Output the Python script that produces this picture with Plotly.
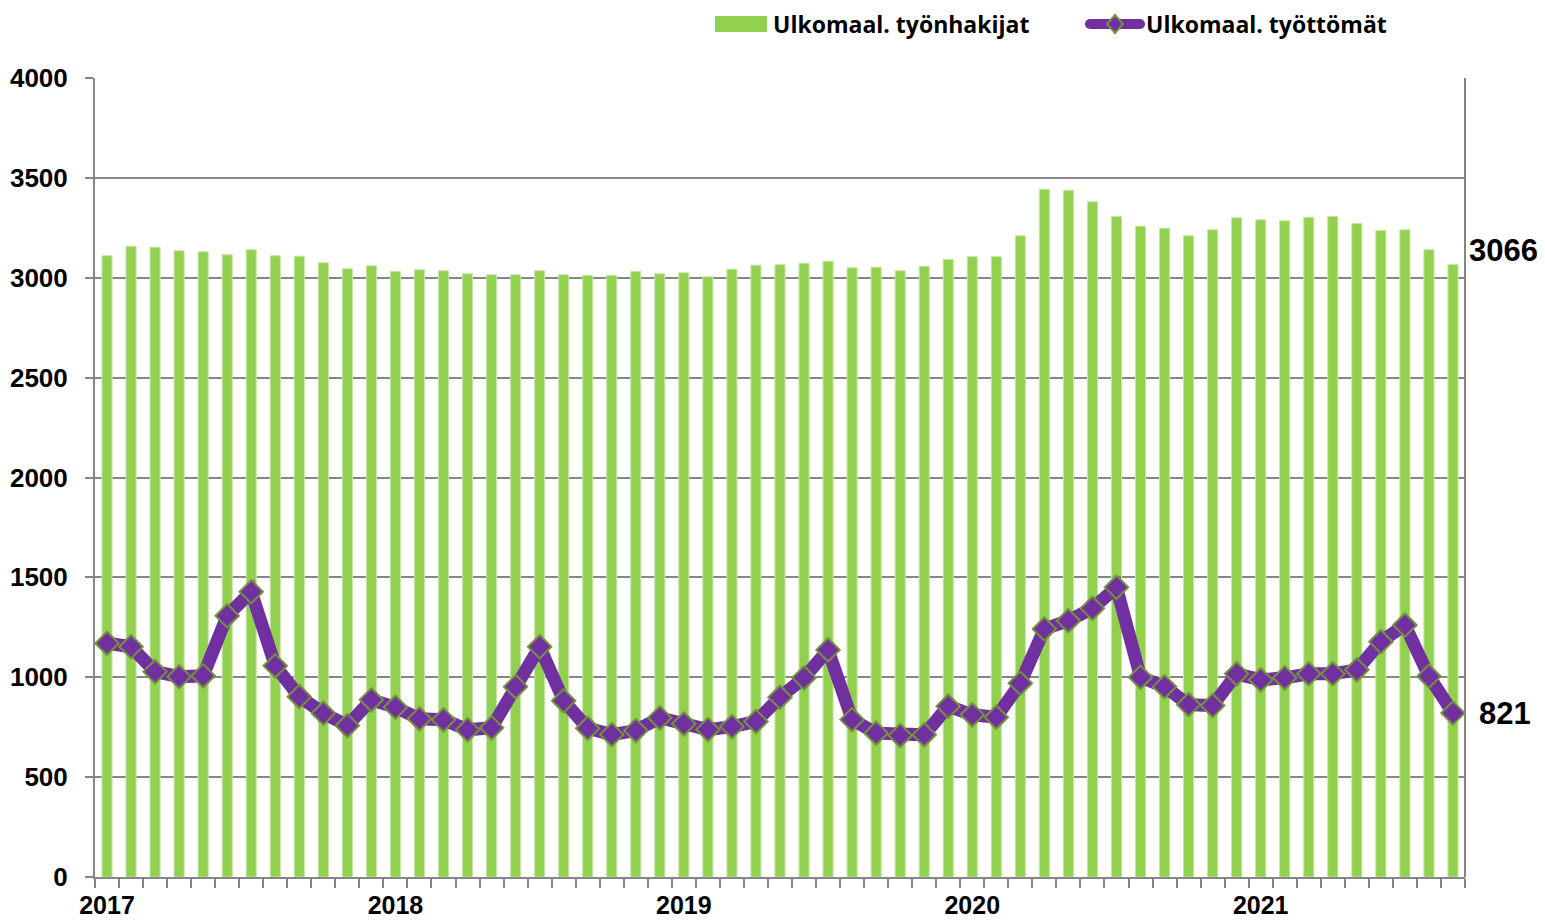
import plotly.graph_objects as go

years = ["2017", "2018", "2019", "2020", "2021"]
months_per_year = 12
series_names = ["Ulkomaal. työnhakijat", "Ulkomaal. työttömät"]

# Ulkomaal. työnhakijat (bars), monthly Jan 2017 - Sep 2021
tyonhakijat = [
    3110, 3158, 3153, 3135, 3130, 3115, 3140, 3110, 3108, 3075, 3045, 3060,
    3032, 3040, 3035, 3020, 3015, 3015, 3035, 3015, 3012, 3012, 3032, 3020,
    3025, 3005, 3043, 3063, 3065, 3073, 3083, 3050, 3053, 3035, 3057, 3092,
    3105, 3105, 3210, 3443, 3438, 3380, 3307, 3258, 3248, 3210, 3240, 3300,
    3290, 3285, 3303, 3307, 3272, 3237, 3240, 3140, 3066,
]

# Ulkomaal. työttömät (line)
tyottomat = [
    1170, 1153, 1028, 1003, 1007, 1308, 1428, 1057, 903, 820, 758, 887,
    850, 792, 787, 737, 747, 953, 1153, 882, 745, 713, 733, 797,
    767, 738, 753, 778, 900, 997, 1137, 788, 720, 708, 712, 855,
    812, 800, 970, 1242, 1283, 1345, 1450, 1000, 953, 863, 858, 1017,
    987, 997, 1017, 1017, 1037, 1178, 1262, 1005, 821,
]

n = len(tyonhakijat)
x = list(range(n))

OFF = 8  # page body margin
W, H = 1545 - OFF, 922 - OFF
ML, MR, MT, MB = 95 - OFF, 80, 78 - OFF, 45
PW, PH = W - ML - MR, H - MT - MB

def px(v):  # screen pixel x -> paper
    return (v - OFF - ML) / PW

def py(v):  # screen pixel y -> paper
    return (H - MB - (v - OFF)) / PH

FONT = "Liberation Sans, Arial, sans-serif"
LFONT = "Open Sans, Lato, sans-serif"
GRID = "#868686"
GREEN = "#92D050"
PURPLE = "#7030A0"
OLIVE = "#76923C"

fig = go.Figure()
fig.add_trace(go.Bar(
    x=x, y=tyonhakijat, name=series_names[0],
    marker=dict(color=GREEN, line=dict(color="#C6E6A3", width=1)),
))
fig.add_trace(go.Scatter(
    x=x, y=tyottomat, name=series_names[1], mode="lines+markers",
    line=dict(color=PURPLE, width=13),
    marker=dict(symbol="diamond", size=18, color=PURPLE,
                line=dict(color=OLIVE, width=2)),
))

# end labels
fig.add_annotation(x=x[-1], y=tyonhakijat[-1], text=f"<b>{tyonhakijat[-1]}</b>",
                   showarrow=False, xanchor="left", xshift=14, yshift=14,
                   font=dict(family=FONT, size=31, color="black"))
fig.add_annotation(x=x[-1], y=tyottomat[-1], text=f"<b>{tyottomat[-1]}</b>",
                   showarrow=False, xanchor="left", xshift=24, yshift=0,
                   font=dict(family=FONT, size=31, color="black"))

# custom legend (decoration)
shapes = []
shapes.append(dict(type="rect", xref="paper", yref="paper",
                   x0=px(715), x1=px(767), y0=py(32), y1=py(16),
                   fillcolor=GREEN, line=dict(width=0)))
shapes.append(dict(type="line", xref="paper", yref="paper",
                   x0=px(1090), x1=px(1140), y0=py(24), y1=py(24),
                   line=dict(color=PURPLE, width=10)))
for cx in (1090, 1140):
    shapes.append(dict(type="circle", xref="paper", yref="paper",
                       x0=px(cx - 5), x1=px(cx + 5), y0=py(29), y1=py(19),
                       fillcolor=PURPLE, line=dict(width=0)))
dcx, dcy = 1115, 24
shapes.append(dict(type="path", xref="paper", yref="paper",
                   path=(f"M {px(dcx - 8)} {py(dcy)} L {px(dcx)} {py(dcy - 9)} "
                         f"L {px(dcx + 8)} {py(dcy)} L {px(dcx)} {py(dcy + 9)} Z"),
                   fillcolor=PURPLE, line=dict(color=OLIVE, width=2)))
shapes.append(dict(type="line", xref="paper", yref="paper", x0=1, x1=1, y0=0, y1=1,
                   line=dict(color=GRID, width=2)))

fig.add_annotation(xref="paper", yref="paper", x=px(771), y=py(24),
                   text=f"<b>{series_names[0]}</b>", showarrow=False,
                   xanchor="left", yanchor="middle",
                   font=dict(family=LFONT, size=23, color="black"))
fig.add_annotation(xref="paper", yref="paper", x=px(1144), y=py(24),
                   text=f"<b>{series_names[1]}</b>", showarrow=False,
                   xanchor="left", yanchor="middle",
                   font=dict(family=LFONT, size=23, color="black"))

fig.update_layout(
    width=W, height=H,
    margin=dict(l=ML, r=MR, t=MT, b=MB, autoexpand=False),
    paper_bgcolor="white", plot_bgcolor="white",
    bargap=0.58,
    showlegend=False,
    shapes=shapes,
    font=dict(family=FONT, color="black"),
)

fig.update_xaxes(
    range=[-0.5, n - 0.5],
    tickvals=[i * months_per_year for i in range(len(years))],
    ticktext=years,
    ticks="", showgrid=False, automargin=False,
    showline=True, linecolor=GRID, linewidth=2,
    ticklabelstandoff=5,
    tickfont=dict(family=FONT, size=25, color="black", weight="bold"),
    minor=dict(ticks="outside", tick0=-0.5, dtick=1, ticklen=9, tickcolor=GRID,
               tickwidth=2, showgrid=False),
    zeroline=False,
)
fig.update_yaxes(
    range=[0, 4000], dtick=500, automargin=False,
    showgrid=True, gridcolor=GRID, gridwidth=2,
    showline=True, linecolor=GRID, linewidth=2,
    ticks="outside", ticklen=8, tickcolor=GRID, tickwidth=2,
    ticklabelstandoff=12,
    tickfont=dict(family=FONT, size=26, color="black", weight="bold"),
    zeroline=False,
)

fig.write_html("out.html")
